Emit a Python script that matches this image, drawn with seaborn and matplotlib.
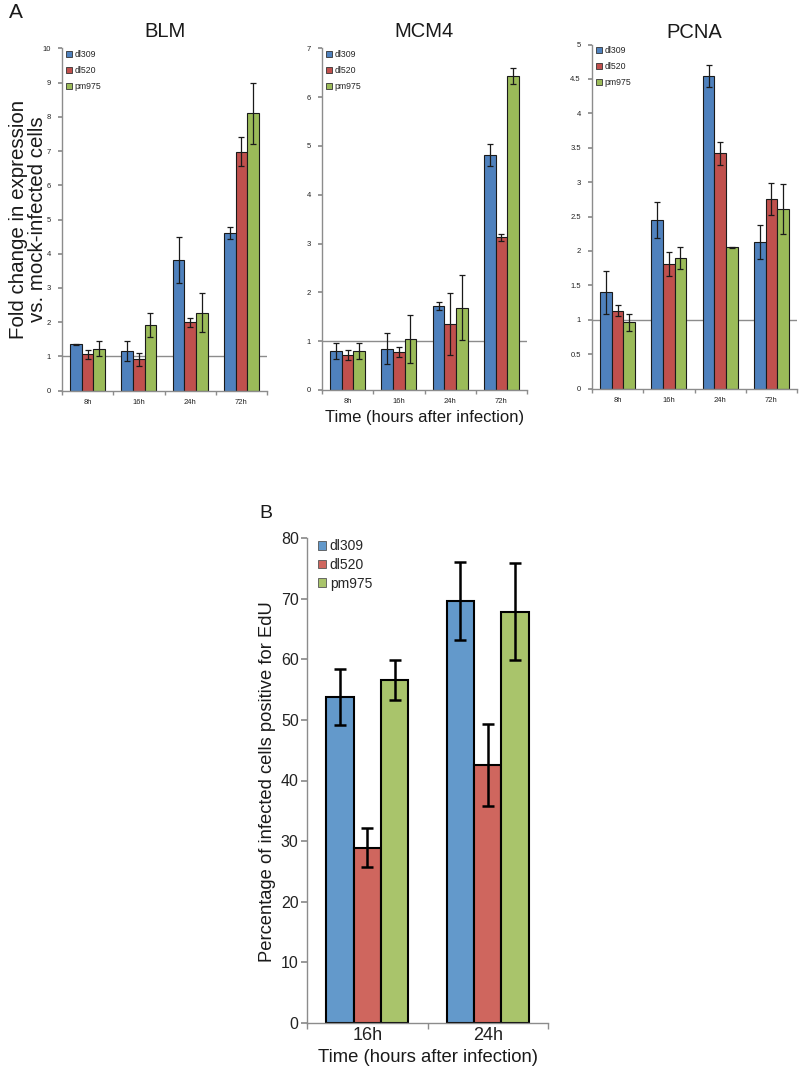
import matplotlib
matplotlib.use("Agg")
import matplotlib.pyplot as plt
from matplotlib.patches import Patch
from matplotlib.ticker import FuncFormatter, FixedLocator
import seaborn as sns
import pandas as pd
import numpy as np

sns.set_theme(style="white")
plt.rcParams['font.family'] = ['Liberation Sans', 'DejaVu Sans']

# ---------------- data ----------------
times_a = ["8h", "16h", "24h", "72h"]
viruses = ["dl309", "dl520", "pm975"]

blm_dl309 = [1.35, 1.15, 3.82, 4.60]
blm_dl520 = [1.06, 0.92, 2.00, 6.98]
blm_pm975 = [1.23, 1.91, 2.27, 8.10]
blm_err_dl309 = [0.02, 0.29, 0.66, 0.17]
blm_err_dl520 = [0.14, 0.19, 0.13, 0.42]
blm_err_pm975 = [0.22, 0.35, 0.57, 0.89]

mcm4_dl309 = [0.80, 0.85, 1.72, 4.81]
mcm4_dl520 = [0.72, 0.78, 1.35, 3.13]
mcm4_pm975 = [0.80, 1.05, 1.69, 6.43]
mcm4_err_dl309 = [0.17, 0.32, 0.09, 0.23]
mcm4_err_dl520 = [0.10, 0.10, 0.64, 0.07]
mcm4_err_pm975 = [0.16, 0.49, 0.66, 0.16]

pcna_dl309 = [1.40, 2.45, 4.54, 2.13]
pcna_dl520 = [1.13, 1.81, 3.42, 2.75]
pcna_pm975 = [0.96, 1.89, 2.05, 2.61]
pcna_err_dl309 = [0.31, 0.26, 0.155, 0.245]
pcna_err_dl520 = [0.08, 0.17, 0.17, 0.23]
pcna_err_pm975 = [0.12, 0.16, 0.01, 0.36]

times_b = ["16h", "24h"]
edu_dl309 = [53.8, 69.6]
edu_dl520 = [28.9, 42.6]
edu_pm975 = [56.5, 67.8]
edu_err_dl309 = [4.6, 6.4]
edu_err_dl520 = [3.25, 6.8]
edu_err_pm975 = [3.3, 8.0]

colors_a = ["#4F81BD", "#C0504D", "#9BBB59"]
colors_b = ["#6399CB", "#CF665E", "#A9C46B"]

W, H = 799, 1071
fig = plt.figure(figsize=(W / 100, H / 100), dpi=100)


def rect(left, top, right, bottom):
    return [left / W, 1 - bottom / H, (right - left) / W, (bottom - top) / H]


def long_df(times, vals):
    rows = []
    for v, series in zip(viruses, vals):
        for t, y in zip(times, series):
            rows.append({"time": t, "virus": v, "value": y})
    return pd.DataFrame(rows)


def draw(ax, times, vals, errs, colors, ylim, yticks, small, edge_lw, e_lw, capsize):
    df = long_df(times, vals)
    sns.barplot(data=df, x="time", y="value", hue="virus", order=times,
                hue_order=viruses, palette=colors, errorbar=None, width=0.68,
                edgecolor="#1a1a1a" if small else "black", linewidth=edge_lw,
                saturation=1, legend=False, ax=ax, zorder=2)
    for cont, err in zip(ax.containers, errs):
        xs = [b.get_x() + b.get_width() / 2 for b in cont]
        hs = [b.get_height() for b in cont]
        ax.errorbar(xs, hs, yerr=err, fmt="none", ecolor="#1a1a1a" if small else "black",
                    elinewidth=e_lw, capsize=capsize, capthick=e_lw, zorder=3)
    ax.set_xlim(-0.5, len(times) - 0.5)
    ax.set_ylim(*ylim)
    ax.set_yticks(yticks)
    ax.yaxis.set_major_formatter(FuncFormatter(lambda v, p: "%g" % v))
    ax.set_xlabel("")
    ax.set_ylabel("")
    for s in ["top", "right"]:
        ax.spines[s].set_visible(False)
    for s in ["left", "bottom"]:
        ax.spines[s].set_color("#8c8c8c")
        ax.spines[s].set_linewidth(1.0)
    ax.xaxis.set_minor_locator(FixedLocator(np.arange(-0.5, len(times), 1.0)))
    xfs = 5.5 if small else 13
    yfs = 5.5 if small else 11.5
    ax.tick_params(axis="x", which="major", length=0, labelsize=xfs,
                   pad=6 if small else 3, colors="#222222")
    ax.tick_params(axis="x", which="minor", length=3 if small else 4, color="#8c8c8c",
                   direction="out", bottom=True)
    ax.tick_params(axis="y", length=3 if small else 4, color="#8c8c8c", labelsize=yfs,
                   pad=5 if small else 2, direction="out", left=True, labelcolor="#222222")
    ax.set_facecolor("white")


# ---------------- panel A ----------------
specs = [
    ("BLM", (blm_dl309, blm_dl520, blm_pm975), (blm_err_dl309, blm_err_dl520, blm_err_pm975),
     (0, 10), np.arange(0, 11, 1), (62, 48.3, 267, 390.7), 8),
    ("MCM4", (mcm4_dl309, mcm4_dl520, mcm4_pm975), (mcm4_err_dl309, mcm4_err_dl520, mcm4_err_pm975),
     (0, 7), np.arange(0, 8, 1), (322, 48.3, 527, 390), 8),
    ("PCNA", (pcna_dl309, pcna_dl520, pcna_pm975), (pcna_err_dl309, pcna_err_dl520, pcna_err_pm975),
     (0, 5), np.arange(0, 5.01, 0.5), (592, 44.5, 797, 388.5), 5),
]

axes_a = []
for title, vals, errs, ylim, yt, r, tpad in specs:
    ax = fig.add_axes(rect(*r))
    draw(ax, times_a, vals, errs, colors_a, ylim, yt, True, 0.8, 0.9, 2.2)
    ax.axhline(1, color="#8c8c8c", lw=1.0, zorder=1)
    ax.set_title(title, fontsize=14.5, color="#1a1a1a", pad=tpad)
    handles = [Patch(facecolor=c, edgecolor="#333333", linewidth=0.6, label=v)
               for c, v in zip(colors_a, viruses)]
    ax.legend(handles=handles, loc="upper left", bbox_to_anchor=(0.01, 1.0), frameon=False,
              fontsize=6.3, handlelength=0.7, handleheight=0.7, handletextpad=0.3,
              labelspacing=0.8, borderaxespad=0.0, borderpad=0.2)
    axes_a.append(ax)

fig.text(28 / W, 1 - 219 / H, "Fold change in expression\nvs. mock-infected cells",
         rotation=90, ha="center", va="center", fontsize=14.8, color="#1a1a1a", linespacing=1.05)
fig.text(425 / W, 1 - 418 / H, "Time (hours after infection)", ha="center", va="center",
         fontsize=12, color="#1a1a1a")
fig.text(16 / W, 1 - 12 / H, "A", ha="center", va="center", fontsize=15, color="#1a1a1a")

# ---------------- panel B ----------------
axb = fig.add_axes(rect(307, 538, 548, 1023))
draw(axb, times_b, (edu_dl309, edu_dl520, edu_pm975), (edu_err_dl309, edu_err_dl520, edu_err_pm975),
     colors_b, (0, 80), np.arange(0, 81, 10), False, 1.5, 1.8, 4.5)
handles = [Patch(facecolor=c, edgecolor="#555555", linewidth=0.6, label=v)
           for c, v in zip(colors_b, viruses)]
axb.legend(handles=handles, loc="upper left", bbox_to_anchor=(0.04, 1.0), frameon=False,
           fontsize=10, handlelength=0.55, handleheight=0.55, handletextpad=0.3,
           labelspacing=0.33, borderaxespad=0.0, borderpad=0.1)
fig.text(267 / W, 1 - 782 / H, "Percentage of infected cells positive for EdU", rotation=90,
         ha="center", va="center", fontsize=13.2, color="#1a1a1a")
fig.text(428 / W, 1 - 1058 / H, "Time (hours after infection)", ha="center", va="center",
         fontsize=13.3, color="#1a1a1a")
fig.text(266 / W, 1 - 513 / H, "B", ha="center", va="center", fontsize=14, color="#1a1a1a")

fig.savefig("out.png", dpi=100, facecolor="white")
